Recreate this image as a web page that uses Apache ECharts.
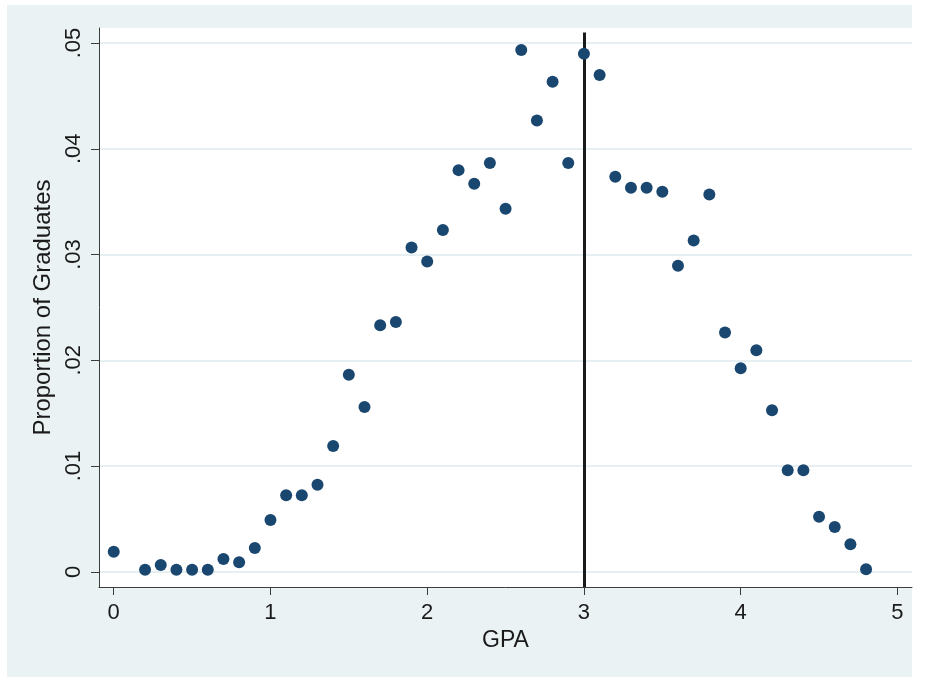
<!DOCTYPE html>
<html>
<head>
<meta charset="utf-8">
<title>Proportion of Graduates by GPA</title>
<script src="https://cdn.jsdelivr.net/npm/echarts@6/dist/echarts.min.js"></script>
<style>
  html, body { margin: 0; padding: 0; background: #ffffff; }
  #chart { width: 925px; height: 677px; }
</style>
</head>
<body>
<div id="chart"></div>
<script>
// GPA bins (0.1 is empty) and share of graduates in each bin
const gpa = [0.0, 0.2, 0.3, 0.4, 0.5, 0.6, 0.7, 0.8, 0.9, 1.0,
             1.1, 1.2, 1.3, 1.4, 1.5, 1.6, 1.7, 1.8, 1.9, 2.0,
             2.1, 2.2, 2.3, 2.4, 2.5, 2.6, 2.7, 2.8, 2.9, 3.0,
             3.1, 3.2, 3.3, 3.4, 3.5, 3.6, 3.7, 3.8, 3.9, 4.0,
             4.1, 4.2, 4.3, 4.4, 4.5, 4.6, 4.7, 4.8];
const proportion = [0.0019, 0.0002, 0.00064, 0.0002, 0.0002, 0.0002, 0.00121, 0.0009, 0.00225, 0.0049,
                    0.00724, 0.00724, 0.00824, 0.0119, 0.01862, 0.01559, 0.02332, 0.02362, 0.03066, 0.02934,
                    0.03231, 0.03798, 0.03669, 0.03865, 0.03432, 0.04934, 0.04268, 0.04634, 0.03865, 0.04899,
                    0.04697, 0.03735, 0.03631, 0.03631, 0.03593, 0.02893, 0.03133, 0.03568, 0.02262, 0.01925,
                    0.02095, 0.01528, 0.0096, 0.0096, 0.00521, 0.00424, 0.0026, 0.00024];

// Axis ticks and the reference line
const xTicks = [0, 1, 2, 3, 4, 5];
const yTicks = [0, 0.01, 0.02, 0.03, 0.04, 0.05];
const cutoffGPA = 3;

const X_MIN = -0.094, X_MAX = 5.093;
const Y_MIN = -0.00144, Y_MAX = 0.05142;
const LINE_TOP = 0.0510;

const FONT = '"Liberation Sans", Arial, Helvetica, sans-serif';
const OUTER_BG = '#eaf2f3';
const AXIS_COLOR = '#3c3c3c';
const TEXT_COLOR = '#1a1a1a';

const points = gpa.map((g, i) => [g, proportion[i]]);

function yLabel(v) {
  if (Math.abs(v) < 1e-9) return '0';
  return v.toFixed(2).replace(/^0/, '');
}

const chart = echarts.init(document.getElementById('chart'), null, { renderer: 'canvas' });

chart.setOption({
  animation: false,
  backgroundColor: '#ffffff',
  textStyle: { fontFamily: FONT },
  graphic: [{
    type: 'rect',
    z: -10,
    silent: true,
    shape: { x: 7, y: 5, width: 905, height: 672 },
    style: { fill: OUTER_BG }
  }],
  grid: {
    left: 99, right: 13, top: 28, bottom: 90,
    show: true,
    backgroundColor: '#ffffff',
    borderWidth: 0
  },
  xAxis: {
    type: 'value',
    min: X_MIN, max: X_MAX,
    name: 'GPA',
    nameLocation: 'middle',
    nameGap: 35,
    nameTextStyle: { fontSize: 23, color: TEXT_COLOR, fontFamily: FONT },
    axisLine: { show: true, onZero: false, lineStyle: { color: AXIS_COLOR, width: 1 } },
    axisTick: { show: true, customValues: xTicks, length: 8, lineStyle: { color: AXIS_COLOR, width: 1 } },
    axisLabel: {
      customValues: xTicks, margin: 15, fontSize: 22, color: TEXT_COLOR, fontFamily: FONT,
      formatter: v => String(v)
    },
    splitLine: { show: false }
  },
  yAxis: {
    type: 'value',
    min: Y_MIN, max: Y_MAX,
    name: 'Proportion of Graduates',
    nameLocation: 'middle',
    nameGap: 43,
    nameTextStyle: { fontSize: 24, color: TEXT_COLOR, fontFamily: FONT },
    axisLine: { show: true, onZero: false, lineStyle: { color: AXIS_COLOR, width: 1 } },
    axisTick: { show: true, customValues: yTicks, length: 8, lineStyle: { color: AXIS_COLOR, width: 1 } },
    axisLabel: {
      customValues: yTicks, rotate: 90, margin: 14, fontSize: 22, color: TEXT_COLOR, fontFamily: FONT,
      formatter: yLabel
    },
    splitLine: { show: true, lineStyle: { color: '#e6eff1', width: 2 } }
  },
  series: [{
    type: 'scatter',
    data: points,
    symbol: 'circle',
    symbolSize: 12,
    itemStyle: { color: '#1a476f', opacity: 1 },
    markLine: {
      silent: true,
      symbol: ['none', 'none'],
      label: { show: false },
      lineStyle: { color: '#1a1a1a', width: 3, type: 'solid' },
      data: [[
        { coord: [cutoffGPA, LINE_TOP] },
        { coord: [cutoffGPA, Y_MIN] }
      ]],
      z: 3
    },
    z: 4
  }]
});
</script>
</body>
</html>
